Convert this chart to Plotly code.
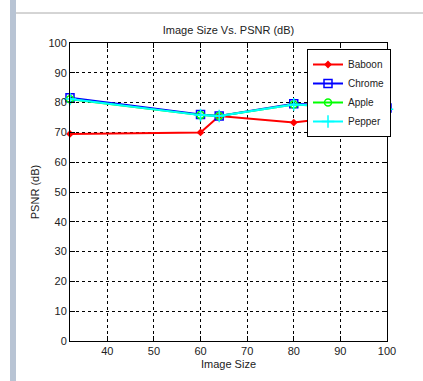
import plotly.graph_objects as go

image_size = [32, 60, 64, 80, 100]
baboon = [69.5, 70.0, 75.5, 73.3, 77.0]
chrome = [81.6, 76.0, 75.5, 79.6, 78.2]
apple = [81.1, 75.8, 75.5, 79.4, 77.8]
pepper = [81.2, 75.8, 75.5, 79.4, 77.8]

series = [
    ("Baboon", baboon, "#ff0000", dict(symbol="diamond", size=6, color="#ff0000")),
    ("Chrome", chrome, "#0000ff", dict(symbol="square-open", size=8, color="#0000ff", line=dict(width=1.5, color="#0000ff"))),
    ("Apple", apple, "#00ff00", dict(symbol="circle-open", size=7, color="#00ff00", line=dict(width=1.5, color="#00ff00"))),
    ("Pepper", pepper, "#00ffff", dict(symbol="cross-thin-open", size=9, color="#00ffff", line=dict(width=1.5, color="#00ffff"))),
]

fig = go.Figure()
for name, vals, col, mk in series:
    fig.add_trace(go.Scatter(x=image_size, y=vals, name=name, mode="lines+markers",
                             line=dict(color=col, width=2), marker=mk, cliponaxis=False))

axis_common = dict(showline=True, linecolor="black", linewidth=1, mirror="ticks",
                   ticks="inside", ticklen=5, tickcolor="black",
                   showgrid=True, gridcolor="black", griddash="dot", gridwidth=1,
                   zeroline=False, tickfont=dict(family="Liberation Sans, Arial", size=11, color="#222"))

fig.update_layout(
    width=423, height=381,
    margin=dict(l=70, r=36, t=43, b=40),
    paper_bgcolor="white", plot_bgcolor="white",
    font=dict(family="Liberation Sans, Arial", size=11, color="#222"),
    title=dict(text="Image Size Vs. PSNR (dB)", x=0.5, xref="paper", xanchor="center",
               y=1 - 30 / 381, yanchor="middle", font=dict(size=11)),
    xaxis=dict(range=[32, 100], tickvals=[40, 50, 60, 70, 80, 90, 100],
               title=dict(text="Image Size", standoff=4, font=dict(size=11)), **axis_common),
    yaxis=dict(range=[0, 100], dtick=10,
               title=dict(text="PSNR (dB)", standoff=6, font=dict(size=11)), **axis_common),
    legend=dict(x=(307 - 70) / 317, y=(341 - 49) / 298, xanchor="left", yanchor="top",
                bgcolor="white", bordercolor="black", borderwidth=1,
                font=dict(size=10), tracegroupgap=0, itemwidth=30),
    showlegend=True,
)

# window frame hints
fig.add_shape(type="rect", xref="paper", yref="paper",
              x0=-70 / 317 + 10 / 317, x1=-70 / 317 + 16 / 317, y0=-40 / 298, y1=1 + 43 / 298,
              fillcolor="#b8c4d4", line=dict(width=0), layer="above")
fig.add_shape(type="line", xref="paper", yref="paper",
              x0=-70 / 317 + 16 / 317, x1=1 + 36 / 317, y0=(341 - 13) / 298, y1=(341 - 13) / 298,
              line=dict(color="#aaaaaa", width=1))

fig.write_html("out.html")
